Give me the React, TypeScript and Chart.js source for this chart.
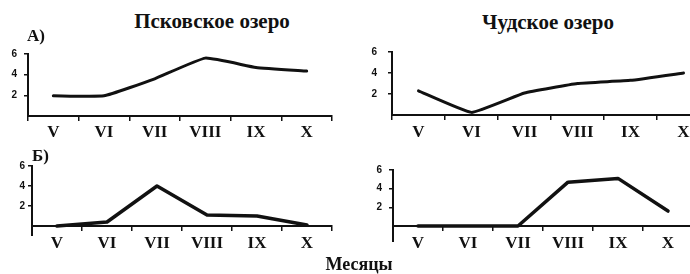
import React, { useEffect, useRef } from "react";
import { Chart, registerables } from "chart.js";

Chart.register(...registerables);

// ---- data ----
const months = ["V", "VI", "VII", "VIII", "IX", "X"];
const pskovA = [1.95, 1.95, 3.6, 5.6, 4.7, 4.35];
const chudA = [2.3, 0.25, 2.1, 3.0, 3.3, 4.0];
const pskovB = [0, 0.4, 4.0, 1.1, 1.0, 0.1];
const chudB = [0, 0, 0, 4.7, 5.1, 1.6];
const yLabelled = [2, 4, 6];

const titles = ["Псковское озеро", "Чудское озеро"];
const rowLabels = ["А)", "Б)"];
const xTitle = "Месяцы";

const INK = "#111";

type Spec = {
  data: number[];
  axisX: number;
  plotTop: number;
  plotBottom: number;
  plotRight: number;
  yw: number;
  labelPad: number;
  stepSize: number;
  tension: number;
  axisExt: number;
  xLabelPad: number;
  xFont: number;
  lineW: number;
};

const specs: Spec[] = [
  { data: pskovA, axisX: 28, plotTop: 51, plotBottom: 116, plotRight: 332, yw: 28, labelPad: 7, stepSize: 1, tension: 0.12, axisExt: 0, xLabelPad: 1, xFont: 17, lineW: 3 },
  { data: chudA, axisX: 392, plotTop: 45, plotBottom: 115, plotRight: 710, yw: 30, labelPad: 11, stepSize: 1, tension: 0.1, axisExt: 0, xLabelPad: 2, xFont: 17, lineW: 3 },
  { data: pskovB, axisX: 32, plotTop: 166, plotBottom: 226, plotRight: 332, yw: 30, labelPad: 3, stepSize: 2, tension: 0, axisExt: 10, xLabelPad: 2, xFont: 17, lineW: 3.5 },
  { data: chudB, axisX: 393, plotTop: 167, plotBottom: 226, plotRight: 693, yw: 30, labelPad: 7, stepSize: 2, tension: 0, axisExt: 16, xLabelPad: 2, xFont: 17, lineW: 3.5 },
];

function Panel({ spec }: { spec: Spec }) {
  const ref = useRef<HTMLCanvasElement>(null);
  const padTop = 10;
  const padRight = 3;
  const xh = 34;
  const left = spec.axisX - spec.yw;
  const top = spec.plotTop - padTop;
  const W = spec.yw + (spec.plotRight - spec.axisX) + padRight;
  const H = padTop + (spec.plotBottom - spec.plotTop) + xh;

  useEffect(() => {
    const ext = spec.axisExt;
    const axisExtPlugin = {
      id: "axisExt",
      afterDraw(chart: any) {
        if (!ext) return;
        const { ctx, chartArea } = chart;
        ctx.save();
        ctx.strokeStyle = INK;
        ctx.lineWidth = 2;
        ctx.beginPath();
        ctx.moveTo(chartArea.left, chartArea.bottom);
        ctx.lineTo(chartArea.left, chartArea.bottom + ext);
        ctx.stroke();
        ctx.restore();
      },
    };
    const chart = new Chart(ref.current as HTMLCanvasElement, {
      type: "line",
      data: {
        labels: months,
        datasets: [
          {
            data: spec.data,
            borderColor: INK,
            borderWidth: spec.lineW,
            pointRadius: 0,
            tension: spec.tension,
            borderJoinStyle: "round",
            borderCapStyle: "round",
            clip: false as any,
          } as any,
        ],
      },
      options: {
        animation: false,
        responsive: false,
        maintainAspectRatio: false,
        layout: { padding: { top: padTop, right: padRight, left: 0, bottom: 0 } },
        plugins: {
          legend: { display: false },
          tooltip: { enabled: false },
          title: { display: false },
        },
        scales: {
          x: {
            type: "category",
            offset: true,
            grid: {
              offset: true,
              drawOnChartArea: false,
              drawTicks: true,
              tickLength: 5,
              color: INK,
              lineWidth: 1.5,
            },
            border: { display: true, color: INK, width: 2 },
            ticks: {
              color: INK,
              font: { family: "Liberation Serif", size: spec.xFont, weight: "bold" },
              padding: spec.xLabelPad,
              maxRotation: 0,
              autoSkip: false,
            },
            afterFit: (s: any) => {
              s.height = xh;
            },
          },
          y: {
            min: 0,
            max: 6,
            ticks: {
              stepSize: spec.stepSize,
              callback: (v: any) => (yLabelled.includes(Number(v)) ? String(v) : ""),
              padding: spec.labelPad,
              color: INK,
              font: { family: "Liberation Sans", size: 10, weight: "bold" },
            },
            grid: {
              drawOnChartArea: false,
              drawTicks: true,
              tickLength: 4,
              color: (ctx: any) => (ctx.tick && ctx.tick.value === 0 ? "rgba(0,0,0,0)" : INK),
              lineWidth: 1.5,
            },
            border: { display: true, color: INK, width: 2 },
            afterFit: (s: any) => {
              s.width = spec.yw;
            },
          },
        },
      } as any,
      plugins: [axisExtPlugin],
    });
    return () => chart.destroy();
  }, []);

  return (
    <canvas
      ref={ref}
      width={W}
      height={H}
      style={{ position: "absolute", left, top, width: W, height: H }}
    />
  );
}

const textBase: React.CSSProperties = {
  position: "absolute",
  fontFamily: "'Liberation Serif', serif",
  fontWeight: "bold",
  color: INK,
  lineHeight: 1,
  whiteSpace: "nowrap",
};

export default function App() {
  return (
    <div
      style={{
        position: "fixed",
        left: 0,
        top: 0,
        width: 690,
        height: 274,
        overflow: "hidden",
        background: "#fff",
      }}
    >
      {specs.map((s, i) => (
        <Panel key={i} spec={s} />
      ))}
      <div style={{ ...textBase, fontSize: 21, left: 212, top: 11, transform: "translateX(-50%)" }}>{titles[0]}</div>
      <div style={{ ...textBase, fontSize: 21, left: 548, top: 11.5, transform: "translateX(-50%)" }}>{titles[1]}</div>
      <div style={{ ...textBase, fontSize: 17, left: 27, top: 27 }}>{rowLabels[0]}</div>
      <div style={{ ...textBase, fontSize: 17, left: 32, top: 147 }}>{rowLabels[1]}</div>
      <div style={{ ...textBase, fontSize: 18, left: 359, top: 255, transform: "translateX(-50%)" }}>{xTitle}</div>
    </div>
  );
}
